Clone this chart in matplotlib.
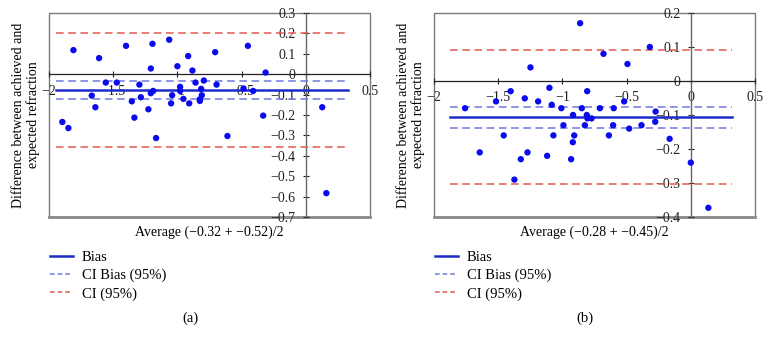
import matplotlib
matplotlib.use("Agg")
import matplotlib.pyplot as plt
from matplotlib.patches import Rectangle
from matplotlib.ticker import FuncFormatter
import numpy as np

plt.rcParams["font.family"] = ["Liberation Serif", "DejaVu Serif"]
plt.rcParams["font.size"] = 10

# panel (a) data
a_x = [-1.896, -1.849, -1.810, -1.667, -1.639, -1.610, -1.558, -1.472, -1.400,
       -1.355, -1.335, -1.296, -1.285, -1.226, -1.207, -1.207, -1.194, -1.189,
       -1.166, -1.064, -1.049, -1.041, -1.000, -0.979, -0.979, -0.953, -0.916,
       -0.908, -0.883, -0.859, -0.825, -0.825, -0.815, -0.810, -0.794, -0.706,
       -0.695, -0.610, -0.485, -0.451, -0.410, -0.332, -0.313, 0.128, 0.160]
a_y = [-0.234, -0.264, 0.118, -0.105, -0.162, 0.079, -0.041, -0.041, 0.139,
       -0.133, -0.213, -0.051, -0.113, -0.172, 0.028, -0.093, 0.149, -0.082,
       -0.313, 0.169, -0.143, -0.103, 0.039, -0.062, -0.082, -0.121, 0.089,
       -0.143, 0.018, -0.041, -0.131, -0.123, -0.072, -0.103, -0.031, 0.108,
       -0.051, -0.303, -0.070, 0.139, -0.082, -0.203, 0.008, -0.162, -0.583]
a_bias = -0.077
a_ci_bias = [-0.034, -0.121]
a_ci = [0.200, -0.355]
a_span = [-1.948, 0.331]
a_ylim = [-0.7, 0.3]
a_xlabel = "Average (\u22120.32 + \u22120.52)/2"

# panel (b) data
b_x = [-1.758, -1.644, -1.517, -1.457, -1.403, -1.374, -1.324, -1.293, -1.272,
       -1.249, -1.189, -1.119, -1.101, -1.083, -1.070, -1.008, -0.992, -0.932,
       -0.919, -0.917, -0.908, -0.862, -0.849, -0.825, -0.810, -0.807, -0.805,
       -0.773, -0.708, -0.680, -0.638, -0.605, -0.600, -0.519, -0.493, -0.480,
       -0.384, -0.319, -0.277, -0.274, -0.165, 0.000, 0.137]
b_y = [-0.080, -0.210, -0.060, -0.160, -0.030, -0.290, -0.230, -0.051, -0.210,
       0.040, -0.060, -0.220, -0.020, -0.070, -0.160, -0.080, -0.130, -0.230,
       -0.180, -0.100, -0.160, 0.170, -0.080, -0.130, -0.100, -0.030, -0.110,
       -0.110, -0.080, 0.080, -0.160, -0.130, -0.080, -0.060, 0.050, -0.140,
       -0.130, 0.100, -0.120, -0.090, -0.170, -0.240, -0.373]
b_bias = -0.106
b_ci_bias = [-0.077, -0.138]
b_ci = [0.090, -0.304]
b_span = [-1.878, 0.318]
b_ylim = [-0.4, 0.2]
b_xlabel = "Average (\u22120.28 + \u22120.45)/2"

x_ticks = [-2, -1.5, -1, -0.5, 0, 0.5]
ylabel = "Difference between achieved and\nexpected refraction"
legend_labels = ["Bias", "CI Bias (95%)", "CI (95%)"]

PT_COLOR = "#0a0aee"
BIAS_COLOR = "#1e2bc8"
CIB_COLOR = "#7078e0"
CI_COLOR = "#e05a50"


def fmt(v, pos):
    s = f"{v:.1f}".rstrip("0").rstrip(".")
    if s in ("-0", "0"):
        return "0"
    return s.replace("-", "\u2212")


def draw_panel(fig, rect, xs, ys, bias, ci_bias, ci, span, ylim, xlabel, lab_x):
    ax = fig.add_axes(rect)
    ax.set_xlim(-2, 0.5)
    ax.set_ylim(*ylim)

    # crossing axes through the origin
    for s in ["top", "right"]:
        ax.spines[s].set_visible(False)
    ax.spines["left"].set_position(("data", 0))
    ax.spines["bottom"].set_position(("data", 0))
    ax.spines["left"].set_color("#666666")
    ax.spines["bottom"].set_color("#222222")
    ax.spines["left"].set_linewidth(1.0)
    ax.spines["bottom"].set_linewidth(0.9)

    # outer frame
    ax.add_patch(Rectangle((0, 0), 1, 1, transform=ax.transAxes, fill=False,
                           edgecolor="#7a7a7a", lw=1.0, clip_on=False, zorder=1))
    ax.plot([0, 1], [0, 0], transform=ax.transAxes, color="#8a8a8a", lw=2.0,
            clip_on=False, zorder=1)

    ax.set_xticks(x_ticks)
    ax.set_yticks(np.round(np.arange(ylim[0], ylim[1] + 0.001, 0.1), 2))
    ax.xaxis.set_major_formatter(FuncFormatter(fmt))
    ax.yaxis.set_major_formatter(FuncFormatter(fmt))
    ax.tick_params(axis="both", direction="inout", length=5, width=0.8,
                   labelsize=10, colors="#222222")
    ax.tick_params(axis="x", pad=5)
    ax.tick_params(axis="y", pad=5)

    # reference lines
    ax.plot(span, [bias, bias], color=BIAS_COLOR, lw=1.8, zorder=3)
    for v in ci_bias:
        ax.plot(span, [v, v], color=CIB_COLOR, lw=1.1, ls=(0, (5, 3)), zorder=3)
    for v in ci:
        ax.plot(span, [v, v], color=CI_COLOR, lw=1.1, ls=(0, (5, 3)), zorder=3)

    ax.scatter(xs, ys, s=21, color=PT_COLOR, edgecolors="none", zorder=4,
               clip_on=False)

    # x label sits below the frame
    ax.text(0.5, -0.04, xlabel, transform=ax.transAxes, ha="center", va="top",
            fontsize=10)

    fig.text(lab_x, rect[1] + rect[3] / 2, ylabel, rotation=90, ha="center",
             va="center", fontsize=10, linespacing=1.15)

    # legend below the panel
    handles = [
        plt.Line2D([], [], color=BIAS_COLOR, lw=1.8),
        plt.Line2D([], [], color=CIB_COLOR, lw=1.1, ls=(0, (3, 2))),
        plt.Line2D([], [], color=CI_COLOR, lw=1.1, ls=(0, (3, 2))),
    ]
    fig.legend(handles, legend_labels, loc="upper left",
               bbox_to_anchor=(rect[0] + 0.001, 0.268), frameon=False,
               fontsize=10.5, handlelength=1.6, handletextpad=0.6,
               labelspacing=0.32, borderpad=0, borderaxespad=0)
    return ax


fig = plt.figure(figsize=(7.7, 3.43), dpi=100)
draw_panel(fig, [49 / 770, 126 / 343, 321 / 770, 204 / 343], a_x, a_y, a_bias,
           a_ci_bias, a_ci, a_span, a_ylim, a_xlabel, 26 / 770)
draw_panel(fig, [434 / 770, 126 / 343, 321 / 770, 204 / 343], b_x, b_y, b_bias,
           b_ci_bias, b_ci, b_span, b_ylim, b_xlabel, 411 / 770)
fig.text(190 / 770, 1 - 318 / 343, "(a)", ha="center", va="center", fontsize=10.5)
fig.text(585 / 770, 1 - 318 / 343, "(b)", ha="center", va="center", fontsize=10.5)

fig.savefig("out.png", dpi=100)
